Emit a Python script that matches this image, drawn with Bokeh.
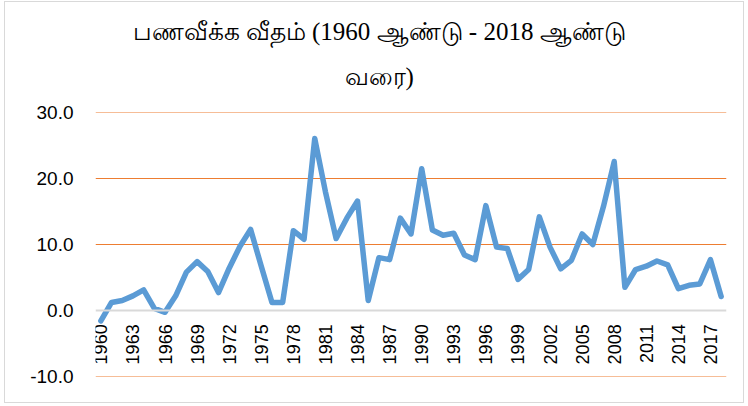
import math
from bokeh.plotting import figure
from bokeh.models import FixedTicker, Range1d, Title, CustomJSTickFormatter
from bokeh.embed import file_html
from bokeh.resources import INLINE

years = list(range(1960, 2019))
inflation = [-1.6, 1.2, 1.5, 2.2, 3.1, 0.3, -0.3, 2.2, 5.8, 7.4,
             5.9, 2.7, 6.4, 9.7, 12.3, 6.7, 1.2, 1.2, 12.1, 10.8,
             26.1, 18.0, 10.9, 14.0, 16.6, 1.5, 8.0, 7.7, 14.0, 11.6,
             21.5, 12.2, 11.4, 11.7, 8.4, 7.7, 15.9, 9.6, 9.4, 4.7,
             6.2, 14.2, 9.6, 6.3, 7.6, 11.6, 10.0, 15.8, 22.6, 3.5,
             6.2, 6.7, 7.5, 6.9, 3.3, 3.8, 4.0, 7.7, 2.1]
x_tick_years = list(range(1960, 2019, 3))
y_ticks = [-10, 0, 10, 20, 30]
title_line1 = "பணவீக்க வீதம் (1960 ஆண்டு - 2018 ஆண்டு"
title_line2 = "வரை)"

p = figure(width=740, height=402, output_backend="svg", toolbar_location=None,
           x_range=Range1d(1959.5, 2018.5), y_range=Range1d(-10.05, 30.05),
           min_border_left=90, min_border_right=19, min_border_bottom=28,
           min_border_top=110)
p.styles = {"border": "1px solid #d9d9d9", "margin": "1px 0px 0px 4px"}
p.outline_line_color = None

p.title.text = title_line1
p.title.align = "left"
p.title.offset = 37
p.title.standoff = -14
p.title.text_font = "Liberation Serif"
p.title.text_font_size = "25px"
p.title.text_font_style = "normal"
p.title.text_color = "#000000"

sub = Title(text=title_line2, align="left", offset=249, standoff=46,
            text_font="Liberation Serif", text_font_size="25px",
            text_font_style="normal", text_color="#000000")
p.add_layout(sub, "above")

p.line(years, inflation, line_color="#5B9BD5", line_width=5.5, line_join="round", line_cap="round")

# x axis at y = 0
xa = p.xaxis[0]
xa.fixed_location = 0
xa.ticker = FixedTicker(ticks=x_tick_years)
xa.major_label_orientation = math.pi / 2
xa.major_tick_line_color = None
xa.minor_tick_line_color = None
xa.axis_line_color = "#D9D9D9"
xa.axis_line_width = 2
xa.major_label_text_font = "Liberation Sans"
xa.major_label_text_font_size = "18px"
xa.major_label_text_color = "#000000"
xa.major_label_standoff = 8

ya = p.yaxis[0]
ya.ticker = FixedTicker(ticks=y_ticks)
ya.formatter = CustomJSTickFormatter(code="return tick.toFixed(1);")
ya.axis_line_color = None
ya.major_tick_line_color = None
ya.minor_tick_line_color = None
ya.major_label_text_font = "Liberation Sans"
ya.major_label_text_font_size = "19px"
ya.major_label_text_color = "#000000"
ya.major_label_standoff = 16

p.xgrid.visible = False
p.ygrid.ticker = FixedTicker(ticks=[-10, 10, 20, 30])
p.ygrid.grid_line_color = "#ED7D31"
p.ygrid.grid_line_width = 1

open("out.html", "w").write(file_html(p, INLINE))
